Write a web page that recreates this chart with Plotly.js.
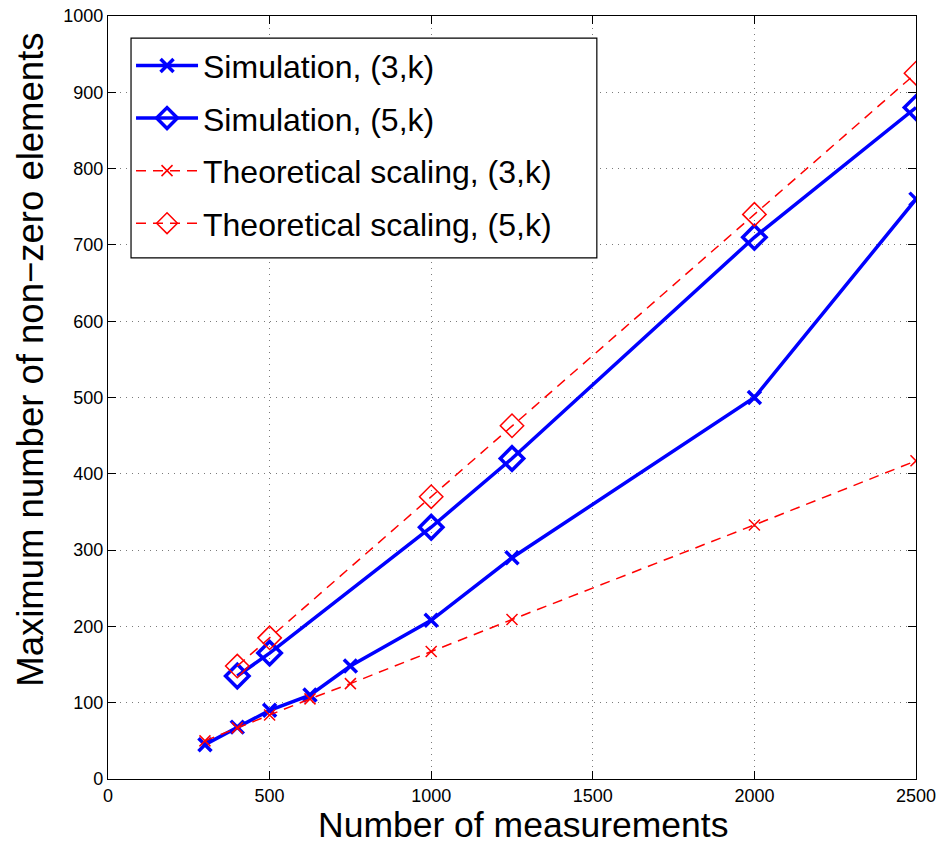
<!DOCTYPE html>
<html>
<head>
<meta charset="utf-8">
<script src="https://cdn.plot.ly/plotly-3.0.1.min.js"></script>
<style>html,body{margin:0;padding:0;background:#fff;}#chart{width:943px;height:846px;}</style>
</head>
<body>
<div id="chart"></div>
<script>
// Data
const simX3 = [300, 400, 500, 625, 750, 1000, 1250, 2000, 2500];
const simY3 = [45, 68, 90, 110, 148, 208, 290, 500, 760];
const simX5 = [400, 500, 1000, 1250, 2000, 2500];
const simY5 = [135, 165, 330, 420, 710, 880];
const theoX3 = [300, 400, 500, 625, 750, 1000, 1250, 2000, 2500];
const theoY3 = [50, 67, 84, 105, 125, 167, 209, 333, 417];
const theoX5 = [400, 500, 1000, 1250, 2000, 2500];
const theoY5 = [148, 185, 370, 463, 740, 925];
const seriesNames = ["Simulation, (3,k)", "Simulation, (5,k)", "Theoretical scaling, (3,k)", "Theoretical scaling, (5,k)"];
const xTitle = "Number of measurements";
const yTitle = "Maximum number of non\u2212zero elements";
const xTicks = [0, 500, 1000, 1500, 2000, 2500];
const yTicks = [0, 100, 200, 300, 400, 500, 600, 700, 800, 900, 1000];

const blue = "rgb(0,0,255)";
const red = "rgb(255,0,0)";
const traces = [
  {x: simX3, y: simY3, name: seriesNames[0], legendgroup: "a", mode: "lines+markers", type: "scatter",
   line: {color: blue, width: 3.5},
   marker: {symbol: "x-thin", size: 13, color: blue, line: {color: blue, width: 3.5}}},
  {x: simX5, y: simY5, name: seriesNames[1], legendgroup: "b", mode: "lines+markers", type: "scatter",
   line: {color: blue, width: 3.5},
   marker: {symbol: "diamond-open", size: 18, color: blue, line: {color: blue, width: 3.5}}},
  {x: theoX3, y: theoY3, name: seriesNames[2], legendgroup: "c", mode: "lines+markers", type: "scatter",
   line: {color: red, width: 1.5, dash: "10px,7px"},
   marker: {symbol: "x-thin", size: 11, color: red, line: {color: red, width: 1.5}}},
  {x: theoX5, y: theoY5, name: seriesNames[3], legendgroup: "d", mode: "lines+markers", type: "scatter",
   line: {color: red, width: 1.5, dash: "10px,7px"},
   marker: {symbol: "diamond-open", size: 18, color: red, line: {color: red, width: 1.5}}}
];

const font = "Liberation Sans, Arial, Helvetica, sans-serif";
const layout = {
  width: 943, height: 846,
  margin: {l: 108, r: 27, t: 16, b: 67},
  paper_bgcolor: "#fff", plot_bgcolor: "#fff",
  font: {family: font, color: "#000"},
  showlegend: true,
  legend: {
    x: 0.0285, y: 0.971, xanchor: "left", yanchor: "top",
    bgcolor: "rgba(0,0,0,0)", borderwidth: 0,
    font: {family: font, size: 32, color: "#000"},
    itemwidth: 62, tracegroupgap: 8
  },
  shapes: [
    {type: "rect", xref: "paper", yref: "paper", x0: 0.0285, x1: 0.605, y0: 0.683, y1: 0.971,
     layer: "above", fillcolor: "#fff", line: {color: "#000", width: 1.2}}
  ],
  xaxis: {
    range: [0, 2500], tickvals: xTicks, ticktext: xTicks.map(String),
    showline: true, linecolor: "#000", linewidth: 1.2, mirror: "ticks",
    ticks: "inside", ticklen: 8, tickcolor: "#000", tickwidth: 1,
    showgrid: true, gridcolor: "rgba(90,90,90,0.8)", griddash: "1px,5px", gridwidth: 1,
    zeroline: false,
    tickfont: {family: font, size: 18, color: "#000"}
  },
  yaxis: {
    range: [0, 1000], tickvals: yTicks, ticktext: yTicks.map(String),
    showline: true, linecolor: "#000", linewidth: 1.2, mirror: "ticks",
    ticks: "inside", ticklen: 8, tickcolor: "#000", tickwidth: 1,
    showgrid: true, gridcolor: "rgba(90,90,90,0.8)", griddash: "1px,5px", gridwidth: 1,
    zeroline: false,
    tickfont: {family: font, size: 18, color: "#000"}
  },
  annotations: [
    {text: xTitle, xref: "paper", yref: "paper", x: 0.5136, y: -0.0603, xanchor: "center", yanchor: "middle",
     showarrow: false, font: {family: font, size: 35.5, color: "#000"}},
    {text: yTitle, xref: "paper", yref: "paper", x: -0.097, y: 0.549, xanchor: "center", yanchor: "middle",
     textangle: -90, showarrow: false, font: {family: font, size: 36.5, color: "#000"}}
  ]
};
Plotly.newPlot("chart", traces, layout, {displayModeBar: false, staticPlot: true});
</script>
</body>
</html>
